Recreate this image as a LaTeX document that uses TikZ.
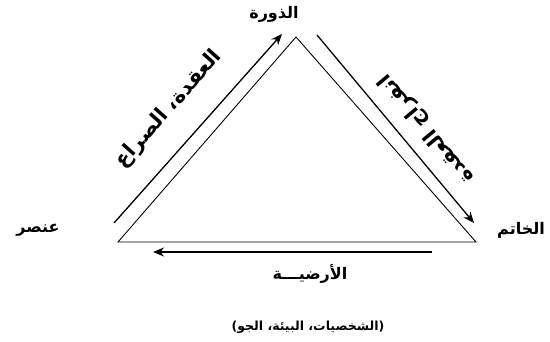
\documentclass[tikz,border=0pt]{standalone}
\usepackage{fontspec}
\newfontfamily\arabicfont[Script=Arabic]{DejaVu Sans}
\TeXXeTstate=1
\usepackage{tikz}
\usetikzlibrary{arrows.meta, positioning}

\begin{document}
\begin{tikzpicture}[x=1pt, y=-1pt,
  edge/.style={line width=0.9pt},
  flow/.style={line width=1.3pt, -{Stealth[length=11pt, width=9pt, inset=3.5pt]}},
  vlabel/.style={font=\arabicfont\bfseries\fontsize{16}{18}\selectfont},
  slabel/.style={font=\arabicfont\bfseries\fontsize{20.5}{23}\selectfont},
  nlabel/.style={font=\arabicfont\bfseries\fontsize{12.5}{15}\selectfont}]

\useasboundingbox (0,0) rectangle (550,342);

% Triangle
\coordinate (climax) at (296,37);
\coordinate (start) at (118,242);
\coordinate (ending) at (476,242);
\draw[edge] (climax) -- (start) -- (ending) -- cycle;

% Vertex labels
\node[vlabel] (climaxlbl) at (274,14) {\beginR الذورة\endR};
\node[vlabel] (startlbl) at (38,230) {\beginR عنصر\endR};
\node[vlabel] (endinglbl) at (521,230) {\beginR الخاتم\endR};

% Rising side
\coordinate (rise0) at (114,223);
\coordinate (rise1) at (282,34);
\draw[flow] (rise0) -- (rise1);
\node[slabel, rotate=48.4] (riselbl) at (169,109) {\beginR العقدة، الصراع\endR};

% Falling side
\coordinate (fall0) at (317,35);
\coordinate (fall1) at (474,223);
\draw[flow] (fall0) -- (fall1);
\node[slabel, rotate=129.8] (falllbl) at (427,129) {\beginR انفراج العقدة\endR};

% Base
\coordinate (base0) at (432,252);
\coordinate (base1) at (153,252);
\draw[flow] (base0) -- (base1);
\node[vlabel] (baselbl) at (310,274) {\beginR الأرضيـــة\endR};
\node[nlabel] (notelbl) at (308,327) {\beginR(الشخصيات، البيئة، الجو)\endR};

\end{tikzpicture}
\end{document}
